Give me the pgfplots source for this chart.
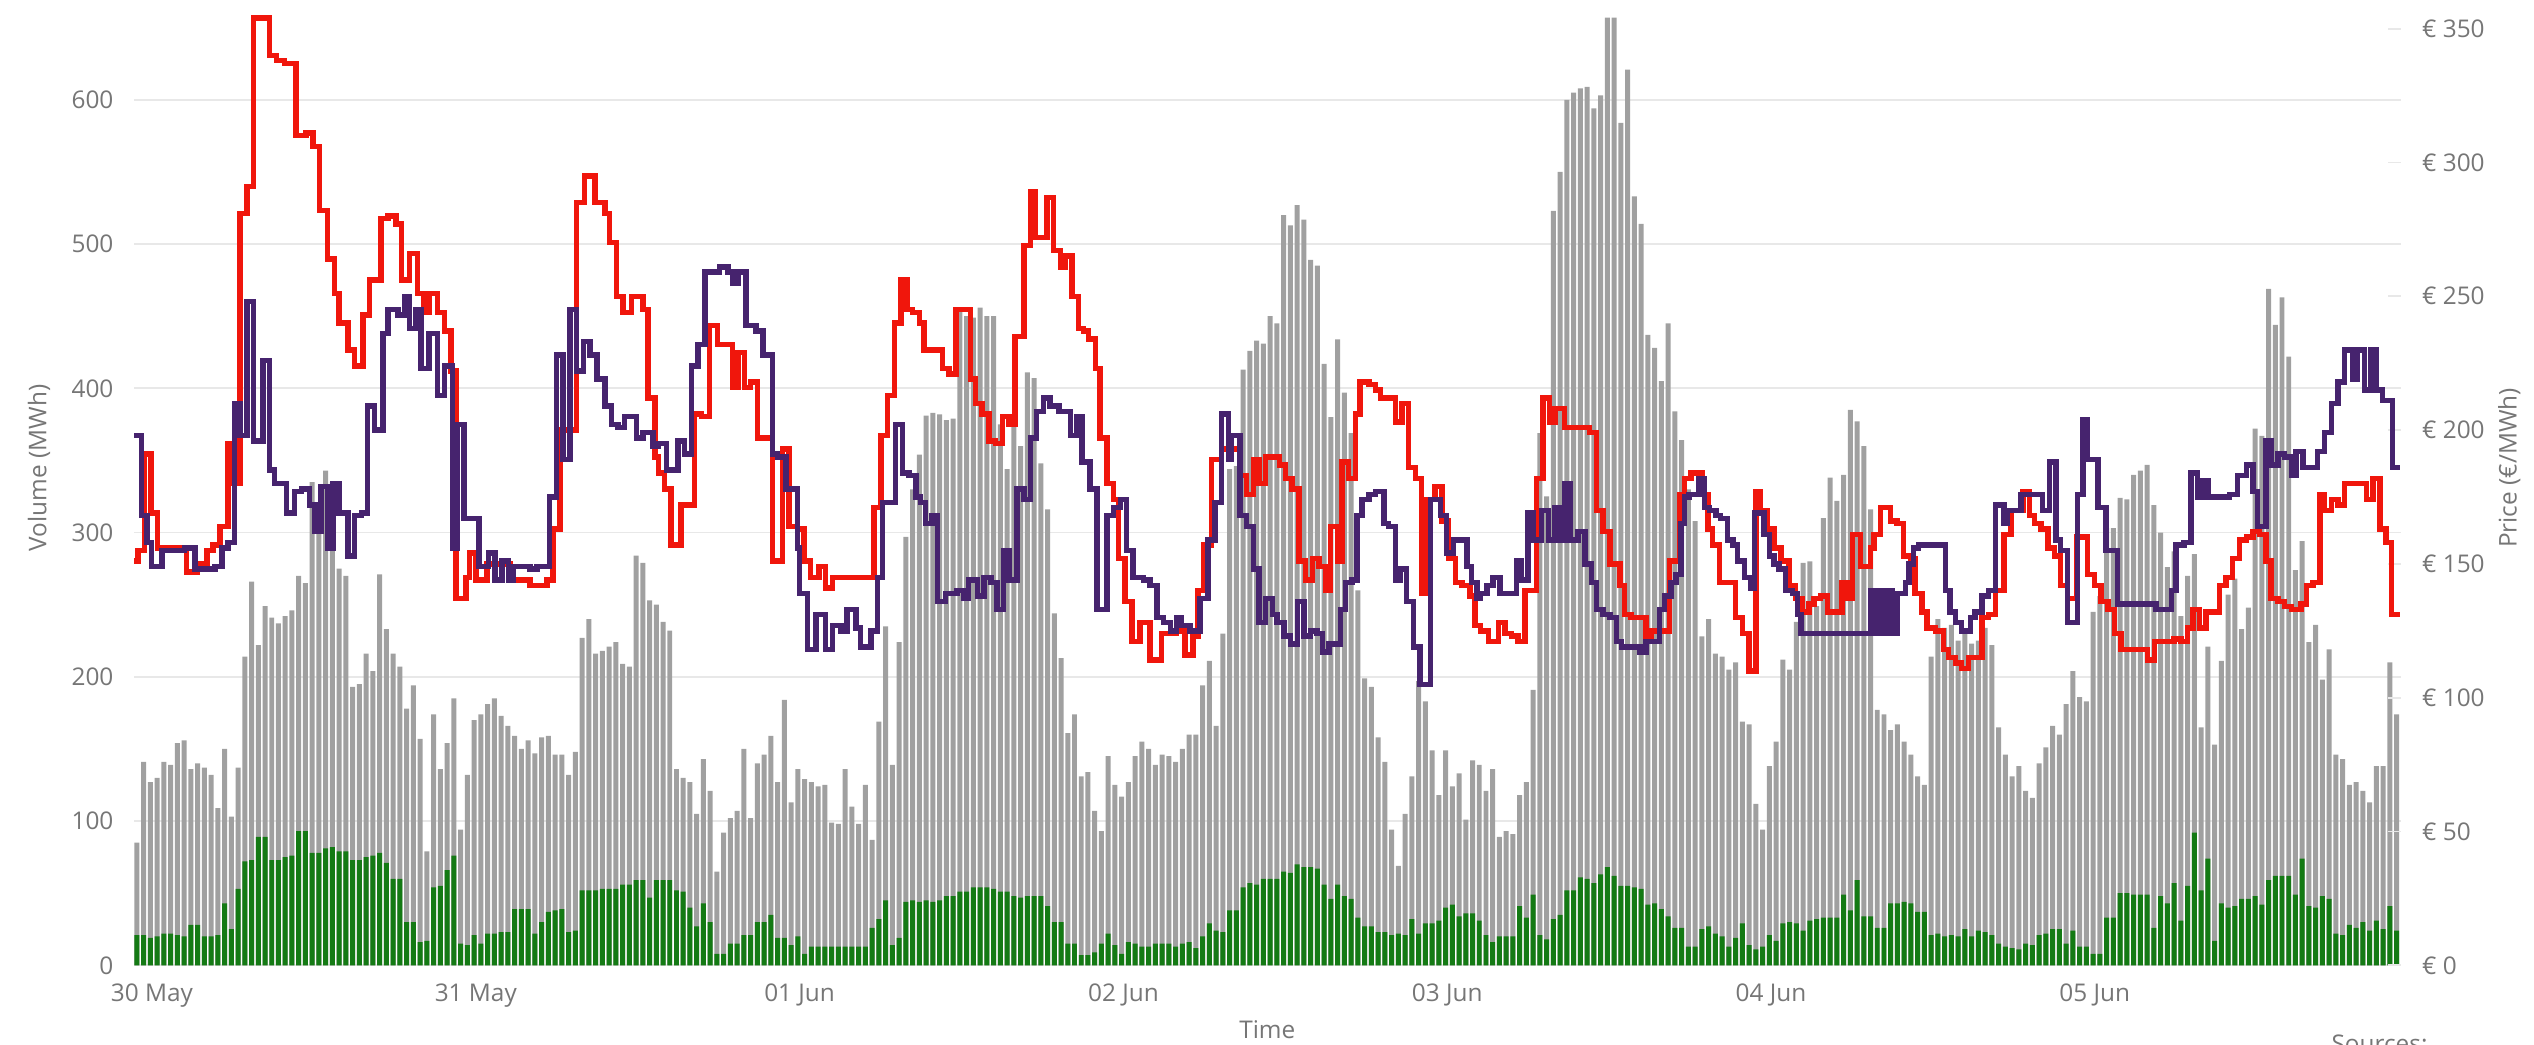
\documentclass[border=0pt]{standalone}
\usepackage{pgfplots}
\pgfplotsset{compat=1.18}
\usepackage{pgfplotstable}
\usepackage{fontspec}
\setmainfont{Open Sans}
\definecolor{barGray}{RGB}{160,160,160}
\definecolor{barGreen}{RGB}{20,122,20}
\definecolor{lineRed}{RGB}{240,22,12}
\definecolor{linePurple}{RGB}{70,35,110}
\definecolor{labGray}{RGB}{118,118,118}
\definecolor{gridGray}{RGB}{232,232,232}

\pgfplotstableread[row sep=\\]{
g v\\
85 21\\ 141 21\\ 127 19\\ 130 20\\ 141 22\\ 139 22\\ 154 21\\ 156 20\\ 136 28\\ 140 28\\
137 20\\ 132 20\\ 109 21\\ 150 43\\ 103 25\\ 137 53\\ 214 72\\ 266 73\\ 222 89\\ 249 89\\
241 73\\ 237 73\\ 242 75\\ 246 76\\ 270 93\\ 265 93\\ 335 78\\ 316 78\\ 343 81\\ 335 82\\
275 79\\ 270 79\\ 193 73\\ 195 73\\ 216 75\\ 204 76\\ 271 78\\ 233 71\\ 216 60\\ 207 60\\
178 30\\ 194 30\\ 157 16\\ 79 17\\ 174 54\\ 136 55\\ 154 66\\ 185 76\\ 94 15\\ 132 14\\
170 21\\ 174 15\\ 181 22\\ 185 22\\ 173 23\\ 166 23\\ 159 39\\ 150 39\\ 156 39\\ 147 22\\
158 30\\ 159 37\\ 146 38\\ 146 39\\ 132 23\\ 148 24\\ 227 52\\ 240 52\\ 216 52\\ 218 53\\
221 53\\ 224 53\\ 209 56\\ 207 56\\ 284 59\\ 279 59\\ 253 47\\ 250 59\\ 238 59\\ 232 59\\
136 52\\ 130 51\\ 127 40\\ 105 27\\ 143 43\\ 121 30\\ 65 8\\ 92 8\\ 102 15\\ 107 15\\
150 21\\ 102 21\\ 140 30\\ 146 30\\ 159 35\\ 127 19\\ 184 19\\ 113 14\\ 136 20\\ 129 8\\
127 13\\ 124 13\\ 125 13\\ 99 13\\ 98 13\\ 136 13\\ 110 13\\ 98 13\\ 125 13\\ 87 26\\
169 32\\ 235 45\\ 139 14\\ 224 19\\ 297 44\\ 330 45\\ 354 44\\ 381 45\\ 383 44\\ 382 45\\
378 48\\ 379 48\\ 453 51\\ 450 51\\ 449 54\\ 456 54\\ 450 54\\ 450 53\\ 375 51\\ 344 51\\
375 48\\ 360 47\\ 411 48\\ 407 48\\ 348 48\\ 316 41\\ 244 30\\ 213 30\\ 161 15\\ 174 15\\
131 7\\ 134 7\\ 107 9\\ 93 15\\ 145 22\\ 125 14\\ 117 8\\ 127 16\\ 145 15\\ 155 13\\
150 13\\ 139 15\\ 146 15\\ 145 15\\ 141 13\\ 150 15\\ 160 16\\ 160 12\\ 194 20\\ 211 29\\
166 24\\ 230 23\\ 344 38\\ 346 38\\ 413 54\\ 426 57\\ 433 56\\ 431 60\\ 450 60\\ 445 60\\
520 65\\ 513 64\\ 527 70\\ 517 68\\ 489 68\\ 485 67\\ 417 56\\ 380 46\\ 434 56\\ 397 48\\
369 46\\ 260 33\\ 199 27\\ 193 27\\ 158 23\\ 141 23\\ 94 21\\ 69 22\\ 105 21\\ 131 32\\
197 22\\ 183 29\\ 149 29\\ 118 31\\ 149 40\\ 124 42\\ 133 34\\ 101 36\\ 142 36\\ 139 31\\
121 21\\ 136 16\\ 89 20\\ 93 20\\ 91 20\\ 118 41\\ 127 33\\ 191 49\\ 369 21\\ 325 18\\
523 32\\ 550 35\\ 600 52\\ 605 52\\ 608 61\\ 609 60\\ 594 57\\ 603 63\\ 657 68\\ 657 62\\
584 55\\ 621 55\\ 533 54\\ 514 53\\ 437 42\\ 428 43\\ 405 39\\ 445 34\\ 384 26\\ 364 26\\
330 13\\ 308 13\\ 228 25\\ 240 27\\ 216 22\\ 214 20\\ 205 13\\ 210 19\\ 169 29\\ 167 14\\
112 11\\ 94 13\\ 138 21\\ 155 17\\ 212 29\\ 205 30\\ 238 29\\ 279 24\\ 280 31\\ 249 32\\
310 33\\ 338 33\\ 322 33\\ 340 49\\ 385 38\\ 377 59\\ 360 34\\ 316 34\\ 177 26\\ 174 26\\
163 43\\ 167 43\\ 155 44\\ 146 43\\ 131 37\\ 125 37\\ 214 21\\ 240 22\\ 234 20\\ 236 21\\
225 20\\ 232 25\\ 223 20\\ 225 24\\ 234 23\\ 222 21\\ 165 15\\ 146 13\\ 131 12\\ 138 11\\
121 15\\ 116 14\\ 140 21\\ 151 22\\ 166 25\\ 160 25\\ 181 15\\ 204 24\\ 186 13\\ 183 13\\
245 8\\ 256 8\\ 303 33\\ 303 33\\ 324 50\\ 323 50\\ 340 49\\ 343 49\\ 347 49\\ 319 26\\
300 48\\ 276 43\\ 287 57\\ 242 31\\ 270 55\\ 285 92\\ 165 52\\ 221 74\\ 153 17\\ 211 43\\
257 40\\ 268 41\\ 233 46\\ 248 46\\ 372 48\\ 367 42\\ 469 59\\ 444 62\\ 463 62\\ 422 62\\
274 49\\ 294 74\\ 224 41\\ 236 40\\ 198 48\\ 219 46\\ 146 22\\ 143 21\\ 125 28\\ 127 26\\
121 30\\ 113 24\\ 138 31\\ 138 25\\ 210 41\\ 174 24\\
}\bars

\begin{document}
\begin{tikzpicture}[x=1pt,y=1pt]
\path[use as bounding box] (0,0) rectangle (810.88,334.4);
\begin{axis}[
  at={(42.88pt,25.5pt)}, anchor=south west, scale only axis,
  width=725.3pt, height=303.5pt,
  xmin=-0.42, xmax=335.58, ymin=0, ymax=657.5,
  axis line style={draw=none},
  ytick={0,100,200,300,400,500,600},
  yticklabels={0,100,200,300,400,500,600},
  ymajorgrids, grid style={gridGray, line width=0.6pt},
  major tick length=0pt,
  xtick={2.25,50.25,98.25,146.25,194.25,242.25,290.25},
  xticklabels={30 May,31 May,01 Jun,02 Jun,03 Jun,04 Jun,05 Jun},
  tick label style={font=\fontsize{7.8}{9}\selectfont, text=labGray},
  yticklabel style={anchor=east, inner sep=0pt, xshift=-6.4pt},
  xticklabel style={anchor=north, inner sep=0pt, yshift=-5.7pt},
  xlabel={Time},
  every axis x label/.style={at={(axis description cs:0.5,0)}, anchor=north, inner sep=0pt, yshift=-17.5pt, font=\fontsize{7.8}{9}\selectfont, text=labGray},
  ylabel={Volume (MWh)},
  every axis y label/.style={at={(axis description cs:-0.0419,0.5244)}, rotate=90, anchor=center, inner sep=0pt, font=\fontsize{7.8}{9}\selectfont, text=labGray},
]
\addplot[ybar, bar width=0.74, bar shift=0pt, fill=barGray, draw=none] table[x expr=\coordindex, y=g] {\bars};
\addplot[ybar, bar width=0.74, bar shift=0pt, fill=barGreen, draw=none] table[x expr=\coordindex, y=v] {\bars};
\end{axis}
\begin{axis}[
  at={(42.88pt,25.5pt)}, anchor=south west, scale only axis,
  width=725.3pt, height=303.5pt,
  xmin=-0.42, xmax=335.58, ymin=0, ymax=354.4,
  axis line style={draw=none},
  xtick=\empty,
  ytick={0,50,100,150,200,250,300,350},
  yticklabels={€ 0,€ 50,€ 100,€ 150,€ 200,€ 250,€ 300,€ 350},
  ytick pos=right, tick align=inside, major tick length=4pt,
  tick style={gridGray, line width=0.6pt},
  tick label style={font=\fontsize{7.8}{9}\selectfont, text=labGray},
  yticklabel style={anchor=west, inner sep=0pt, xshift=6.7pt},
  ylabel={Price (€/MWh)},
  every axis y label/.style={at={(axis description cs:1.048,0.5244)}, rotate=90, anchor=center, inner sep=0pt, font=\fontsize{7.8}{9}\selectfont, text=labGray},
  clip=false,
]
\addplot[const plot, color=lineRed, line width=1.75pt] coordinates {
(-0.4,151) (0.2,155) (1.1,191) (2.1,169) (3.1,156) (7.4,147) (8.9,150) (10.4,155) (11.3,157) (12.3,164) (13.5,195) (14.3,180) (15.3,281) (16.3,291) (17.3,354) (19.7,340) (20.7,338) (21.9,337) (23.6,310) (25.1,311) (26.1,306) (27.1,282) (28.3,264) (29.3,251) (30.0,240) (31.3,230) (32.3,224) (33.5,243) (34.5,256) (36.2,279) (37.2,280) (38.4,277) (39.2,256) (40.4,266) (41.6,251) (42.6,244) (43.3,251) (44.6,244) (45.6,237) (46.6,222) (47.3,137) (48.8,145) (49.3,154) (50.3,144) (51.9,150) (55.3,144) (58.3,142) (60.8,144) (61.7,163) (62.7,200) (65.2,285) (66.4,295) (67.9,285) (69.4,281) (70.1,270) (71.1,250) (72.1,244) (73.3,250) (75.0,245) (75.8,212) (76.8,190) (77.3,184) (78.2,178) (79.2,157) (80.7,172) (82.7,206) (83.7,205) (84.9,239) (86.1,232) (88.3,216) (89.1,229) (90.1,216) (91.0,218) (92.0,197) (94.2,151) (95.7,193) (96.7,164) (97.9,163) (98.9,151) (99.9,145) (101.1,149) (102.1,141) (103.1,145) (109.3,171) (110.3,198) (111.3,213) (112.3,240) (113.3,256) (114.2,245) (115.0,244) (116.0,240) (116.7,230) (119.4,223) (120.4,221) (121.4,245) (123.6,219) (124.3,210) (125.3,206) (126.3,196) (127.3,195) (128.3,205) (129.3,202) (130.2,235) (131.5,269) (132.5,289) (133.2,272) (134.9,287) (135.9,267) (136.9,261) (137.6,265) (138.6,250) (139.6,238) (140.3,237) (141.1,234) (142.1,223) (142.8,197) (143.8,180) (144.8,174) (145.5,152) (146.5,136) (147.5,121) (148.7,128) (150.2,114) (151.9,124) (154.1,125) (155.4,116) (156.6,123) (157.3,140) (158.1,157) (159.3,189) (160.8,193) (163.5,183) (164.5,176) (165.5,189) (166.35,180) (167.35,190) (169.35,187) (170.25,182) (171.25,178) (172.25,151) (173.25,144) (174.25,152) (175.25,149) (176.25,140) (176.95,164) (177.95,151) (178.65,188) (179.65,182) (180.65,206) (181.35,218) (182.65,217) (183.65,215) (184.35,212) (186.55,203) (187.55,210) (188.55,186) (189.55,182) (190.45,139) (191.25,174) (192.45,179) (193.45,166) (194.45,152) (195.45,143) (196.45,142) (197.65,138) (198.35,127) (199.15,125) (200.35,121) (201.85,128) (202.85,124) (203.75,123) (204.75,121) (205.75,140) (207.45,182) (208.45,212) (209.45,203) (210.25,208) (211.65,201) (215.35,199) (216.35,170) (217.35,162) (218.35,150) (219.85,142) (220.5,131) (221.5,130) (223.7,123) (224.5,125) (227.2,151) (228.7,176) (229.4,182) (230.4,184) (232.1,176) (232.9,163) (233.6,157) (234.6,143) (237.0,130) (238.0,124) (239.0,110) (240.0,177) (240.7,170) (241.7,163) (242.7,156) (243.7,151) (244.9,142) (245.9,137) (246.9,132) (247.9,135) (248.6,137) (249.6,138) (250.6,132) (252.8,143) (253.5,137) (254.3,161) (255.5,149) (257.0,156) (257.5,161) (258.5,171) (260.0,166) (260.9,165) (261.9,153) (262.9,152) (263.6,139) (264.6,132) (265.4,126) (266.6,125) (267.8,118) (268.6,115) (269.6,113) (270.5,111) (271.5,115) (273.5,130) (274.5,131) (275.5,140) (276.8,161) (277.8,170) (279.6,177) (280.55,168) (281.3,165) (282.3,163) (283.3,156) (284.3,153) (285.2,142) (286.2,137) (287.5,160) (289.2,146) (290.2,142) (291.2,136) (292.2,133) (293.2,124) (294.1,118) (298.1,114) (299.1,121) (302.0,122) (303.0,121) (304.0,126) (304.8,133) (305.8,126) (306.7,132) (308.7,142) (309.7,145) (310.7,152) (311.7,159) (312.7,160) (313.7,162) (314.7,161) (315.6,151) (316.4,137) (317.4,136) (318.4,134) (319.4,133) (320.8,135) (321.6,142) (322.6,143) (323.6,176) (324.3,170) (325.3,174) (326.3,172) (327.3,180) (330.5,174) (331.5,182) (332.5,163) (333.4,158) (334.2,131) (335.55,131)
};
\addplot[const plot, color=linePurple, line width=1.75pt] coordinates {
(-0.4,198) (0.7,168) (1.5,158) (2.2,149) (3.7,155) (7.1,156) (8.6,148) (11.6,149) (12.6,156) (13.5,158) (14.5,210) (15.3,198) (16.3,248) (17.3,196) (18.7,226) (19.7,185) (20.4,180) (22.2,169) (23.4,177) (24.4,178) (25.6,172) (26.4,162) (27.3,179) (28.3,156) (29.1,180) (30.0,169) (31.3,153) (32.3,168) (33.3,169) (34.2,209) (35.2,200) (36.5,236) (37.2,245) (38.7,243) (39.7,250) (40.4,238) (41.4,245) (42.1,223) (43.3,236) (44.6,213) (45.6,224) (46.8,156) (47.5,202) (48.5,167) (50.7,149) (52.1,154) (53.1,144) (54.1,151) (55.1,144) (55.8,149) (58.3,148) (59.3,149) (61.2,175) (62.2,228) (63.2,189) (64.2,245) (65.2,222) (66.2,233) (67.2,228) (68.2,219) (69.4,209) (70.4,202) (71.3,201) (72.3,205) (74.1,197) (75.0,199) (76.5,194) (77.3,195) (78.5,185) (80.2,196) (81.2,191) (82.2,224) (83.2,232) (84.2,259) (86.4,261) (87.6,259) (88.3,255) (89.1,259) (90.3,239) (91.8,237) (92.8,228) (94.2,191) (95.0,190) (96.2,178) (97.9,156) (98.2,139) (99.4,118) (100.7,131) (102.1,118) (103.1,127) (104.4,125) (105.3,133) (106.6,126) (107.3,119) (108.8,125) (109.8,145) (110.5,173) (112.5,202) (113.5,184) (114.5,183) (115.5,175) (116.2,173) (116.9,165) (117.9,168) (118.7,136) (119.9,139) (121.6,140) (122.6,137) (123.3,144) (124.6,138) (125.6,145) (126.6,143) (127.5,133) (128.5,155) (129.3,144) (130.5,178) (131.5,174) (132.5,197) (133.4,207) (134.4,212) (135.4,209) (136.7,207) (138.4,198) (139.4,205) (140.1,188) (141.3,178) (142.3,133) (143.8,168) (144.8,171) (145.8,174) (146.7,155) (147.7,145) (149.2,144) (150.2,142) (151.2,130) (152.2,128) (153.2,125) (154.1,130) (154.9,127) (156.1,125) (157.6,137) (158.8,159) (159.8,173) (160.8,206) (161.8,189) (162.3,198) (163.5,168) (164.5,164) (165.5,148) (166.35,128) (167.35,137) (168.35,131) (169.05,128) (170.05,123) (171.05,120) (172.05,136) (173.05,123) (173.95,125) (174.95,124) (175.75,117) (176.75,120) (178.45,133) (179.15,143) (180.15,144) (180.85,168) (181.65,174) (182.65,176) (183.65,177) (184.85,165) (185.55,164) (186.55,144) (187.25,148) (188.25,136) (189.25,119) (190.25,105) (191.75,174) (193.25,168) (194.15,154) (195.15,159) (197.15,149) (197.85,143) (198.65,137) (199.15,139) (200.15,142) (201.05,145) (202.05,139) (204.55,151) (205.25,144) (206.25,169) (206.95,159) (208.25,170) (209.25,159) (210.25,171) (210.95,159) (211.65,180) (212.45,159) (213.65,162) (214.65,150) (215.65,143) (216.35,133) (217.35,131) (218.35,130) (219.35,121) (220.05,119) (222.8,117) (223.7,121) (225.7,133) (226.5,138) (227.4,143) (228.2,146) (228.9,165) (229.4,175) (230.1,176) (231.6,182) (232.4,171) (233.1,170) (234.1,168) (234.8,167) (235.8,159) (236.6,157) (237.3,151) (238.3,145) (239.3,141) (239.8,169) (241.2,161) (242.0,153) (242.7,150) (243.4,148) (244.4,140) (245.4,139) (246.2,131) (246.7,124) (257.0,140) (257.7,124) (258.2,140) (258.7,124) (259.5,140) (260.2,124) (260.9,139) (262.2,143) (262.7,150) (263.4,156) (264.1,157) (268.1,140) (268.8,132) (269.6,128) (270.5,125) (271.8,130) (272.5,132) (273.5,138) (274.5,140) (275.5,172) (276.8,165) (277.3,170) (279.3,176) (282.5,170) (283.5,188) (284.5,159) (285.2,155) (286.2,128) (287.7,176) (288.5,204) (289.2,189) (290.7,171) (291.9,155) (293.6,135) (299.3,133) (301.6,140) (302.3,157) (303.5,158) (304.5,184) (305.5,175) (306.3,181) (307.0,175) (310.2,176) (311.4,183) (312.7,187) (313.7,177) (314.4,164) (315.6,196) (316.4,187) (317.4,191) (318.4,190) (319.4,183) (320.1,192) (321.1,186) (323.3,192) (324.3,199) (325.3,210) (326.3,218) (327.3,230) (328.5,219) (329.2,230) (330.2,215) (331.2,230) (332.0,215) (332.9,211) (334.4,186) (335.55,186)
};
\end{axis}
\node[anchor=north west, inner sep=0pt, font=\fontsize{7.8}{9}\selectfont, text=labGray] at (745.9,3.5) {Sources:};
\end{tikzpicture}
\end{document}
